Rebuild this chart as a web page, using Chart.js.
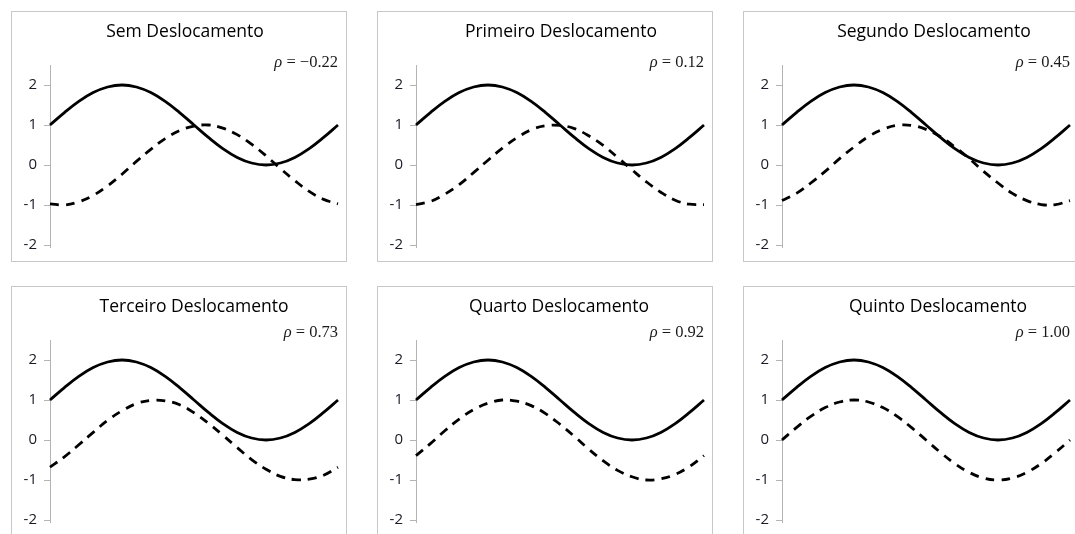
<!DOCTYPE html>
<html>
<head>
<meta charset="utf-8">
<script src="https://cdn.jsdelivr.net/npm/chart.js@4"></script>
<style>
  html, body { margin: 0; padding: 0; background: #fff; overflow: hidden; }
  body { width: 1075px; height: 534px; position: relative; }
  .panel { position: absolute; width: 336px; height: 251px; box-sizing: border-box; border: 1px solid #c8c8c8; background: #fff; }
  .panel canvas { display: block; }
</style>
</head>
<body>
<script>
// x positions (degrees over one period)
const xLabels = [0, 18, 36, 54, 72, 90, 108, 126, 144, 162, 180, 198, 216, 234, 252, 270, 288, 306, 324, 342, 360];

// solid curve, same in every panel
const solidValues = [1, 1.31, 1.59, 1.81, 1.95, 2, 1.95, 1.81, 1.59, 1.31, 1, 0.69, 0.41, 0.19, 0.05, 0, 0.05, 0.19, 0.41, 0.69, 1];

// dashed curve for each shift
const dashedSem      = [-0.97, -1.00, -0.92, -0.76, -0.52, -0.23, 0.09, 0.39, 0.66, 0.86, 0.97, 1.00, 0.92, 0.76, 0.52, 0.23, -0.09, -0.39, -0.66, -0.86, -0.97];
const dashedPrimeiro = [-0.99, -0.91, -0.73, -0.49, -0.19, 0.12, 0.42, 0.68, 0.88, 0.98, 0.99, 0.91, 0.73, 0.49, 0.19, -0.12, -0.42, -0.68, -0.88, -0.98, -0.99];
const dashedSegundo  = [-0.89, -0.71, -0.45, -0.16, 0.16, 0.45, 0.71, 0.89, 0.99, 0.99, 0.89, 0.71, 0.45, 0.16, -0.16, -0.45, -0.71, -0.89, -0.99, -0.99, -0.89];
const dashedTerceiro = [-0.68, -0.42, -0.12, 0.19, 0.49, 0.73, 0.91, 0.99, 0.98, 0.88, 0.68, 0.42, 0.12, -0.19, -0.49, -0.73, -0.91, -0.99, -0.98, -0.88, -0.68];
const dashedQuarto   = [-0.39, -0.09, 0.23, 0.52, 0.76, 0.92, 1.00, 0.97, 0.86, 0.66, 0.39, 0.09, -0.23, -0.52, -0.76, -0.92, -1.00, -0.97, -0.86, -0.66, -0.39];
const dashedQuinto   = [0, 0.31, 0.59, 0.81, 0.95, 1, 0.95, 0.81, 0.59, 0.31, 0, -0.31, -0.59, -0.81, -0.95, -1, -0.95, -0.81, -0.59, -0.31, 0];

const titles = ["Sem Deslocamento", "Primeiro Deslocamento", "Segundo Deslocamento",
                "Terceiro Deslocamento", "Quarto Deslocamento", "Quinto Deslocamento"];
const rhoValues = ["\u22120.22", "0.12", "0.45", "0.73", "0.92", "1.00"];
const yTicks = [-2, -1, 0, 1, 2];

const dashedSeries = [dashedSem, dashedPrimeiro, dashedSegundo, dashedTerceiro, dashedQuarto, dashedQuinto];

// panel placement
const colLeft = [11, 377, 743];
const rowTop = [11, 286];
const rhoY = [51, 46];
const titleX = [173, 183, 190, 182, 181, 194];

const serif = "'Liberation Serif', 'DejaVu Serif', serif";
const sans = "'Open Sans', 'DejaVu Sans', sans-serif";

// panel title and the "ρ = value" note
const notesPlugin = {
  id: "notes",
  afterDraw(chart, args, opts) {
    const ctx = chart.ctx;
    const area = chart.chartArea;
    ctx.save();
    ctx.textBaseline = "middle";

    ctx.fillStyle = "#000";
    ctx.textAlign = "center";
    ctx.font = "500 17.5px " + sans;
    ctx.fillText(opts.title, opts.titleX, 20);

    ctx.fillStyle = "#1a1a1a";
    ctx.textAlign = "left";
    const rest = " = " + opts.value;
    ctx.font = "16.5px " + serif;
    const restW = ctx.measureText(rest).width;
    ctx.font = "italic 16.5px " + serif;
    const rhoW = ctx.measureText("\u03c1").width;
    const right = Math.min(area.right + 3, chart.width - 8);
    const x0 = right - restW - rhoW;
    ctx.fillText("\u03c1", x0, opts.y);
    ctx.font = "16.5px " + serif;
    ctx.fillText(rest, x0 + rhoW, opts.y);
    ctx.restore();
  }
};

titles.forEach((title, i) => {
  const row = Math.floor(i / 3);
  const col = i % 3;

  const panel = document.createElement("div");
  panel.className = "panel";
  panel.style.left = colLeft[col] + "px";
  panel.style.top = rowTop[row] + "px";
  const canvas = document.createElement("canvas");
  canvas.width = 334;
  canvas.height = 249;
  panel.appendChild(canvas);
  document.body.appendChild(panel);

  new Chart(canvas, {
    type: "line",
    data: {
      labels: xLabels,
      datasets: [
        {
          data: solidValues,
          borderColor: "#000",
          borderWidth: 2.8,
          pointRadius: 0,
          tension: 0.4,
          fill: false
        },
        {
          data: dashedSeries[i],
          borderColor: "#000",
          borderWidth: 2.8,
          borderDash: [9, 7],
          pointRadius: 0,
          tension: 0.4,
          fill: false
        }
      ]
    },
    options: {
      responsive: false,
      animation: false,
      devicePixelRatio: 1,
      layout: { padding: { left: 0, right: 8, top: 53, bottom: 14 } },
      scales: {
        x: { display: false },
        y: {
          min: -2.05,
          max: 2.5,
          afterBuildTicks: (scale) => { scale.ticks = yTicks.map(v => ({ value: v })); },
          afterFit: (scale) => { scale.width = 38; },
          border: { display: true, color: "#b4b4b4", width: 1 },
          grid: { drawOnChartArea: false, drawTicks: true, tickLength: 6, color: "#b4b4b4" },
          ticks: {
            padding: 7,
            color: "#1a1a28",
            font: { family: sans, size: 15, lineHeight: 0.7 },
            callback: (v) => String(v)
          }
        }
      },
      plugins: {
        legend: { display: false },
        tooltip: { enabled: false },
        title: { display: false },
        notes: { title: title, titleX: titleX[i], value: rhoValues[i], y: rhoY[row] }
      }
    },
    plugins: [notesPlugin]
  });
});
</script>
</body>
</html>
